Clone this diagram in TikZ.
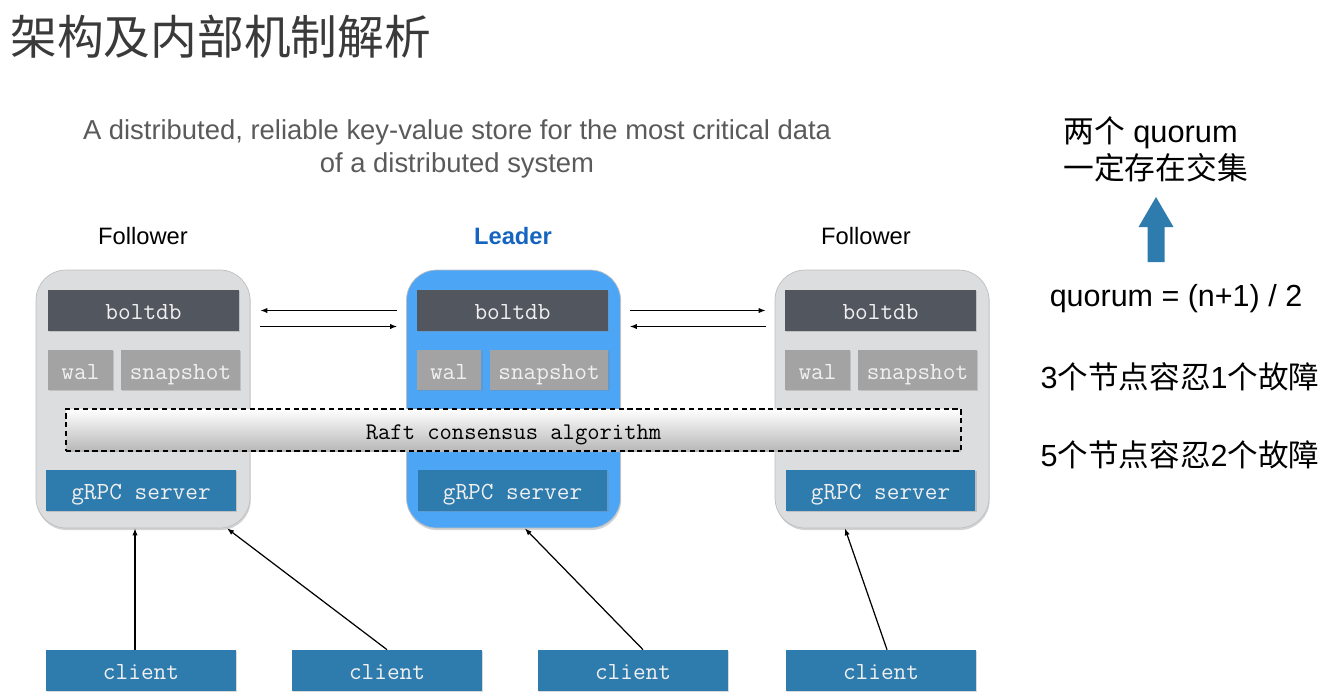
\documentclass[tikz,border=0pt]{standalone}
\usepackage{fontspec}
\setmainfont{Liberation Sans}
\newfontfamily\cjk{Noto Sans CJK SC}
\usetikzlibrary{arrows.meta,shadows}

\definecolor{boltgray}{HTML}{52565E}
\definecolor{walgray}{HTML}{A3A3A3}
\definecolor{grpcblue}{HTML}{2E7BAE}
\definecolor{leaderblue}{HTML}{4DA6F5}
\definecolor{followergray}{HTML}{DCDDDF}
\definecolor{leadertext}{HTML}{1565C0}
\definecolor{titlegray}{HTML}{3A3A3A}
\definecolor{subgray}{HTML}{5A5A5A}

\begin{document}
\begin{tikzpicture}[x=0.02cm, y=-0.02cm, every node/.style={inner sep=0pt},
    member/.style={rectangle, rounded corners=0.6cm, minimum width=4.28cm, minimum height=5.16cm,
        draw=black!25, drop shadow={shadow xshift=0.4pt, shadow yshift=-1.2pt, opacity=0.35}},
    part/.style={rectangle, text=white!94!black, font=\ttfamily\fontsize{14}{16}\selectfont,
        text height=2.1ex, text depth=0.1ex,
        drop shadow={shadow xshift=0.6pt, shadow yshift=-0.8pt, opacity=0.3}},
    bolt/.style={part, fill=boltgray, minimum width=3.82cm, minimum height=0.82cm},
    wal/.style={part, fill=walgray, minimum width=1.3cm, minimum height=0.8cm},
    snap/.style={part, fill=walgray, minimum width=2.38cm, minimum height=0.8cm},
    grpc/.style={part, fill=grpcblue, minimum width=3.8cm, minimum height=0.82cm},
    conn/.style={-{Latex[length=4pt,width=3pt]}, line width=0.7pt},
    role/.style={font=\fontsize{13.5}{16}\selectfont}]
    \useasboundingbox (0, 0) rectangle (1325, 698);

    % title and subtitle
    \node[anchor=west, text=titlegray, font=\cjk\fontsize{26.6}{30}\selectfont] (title) at (10, 37) {架构及内部机制解析};
    \node[align=center, text=subgray, font=\fontsize{15.6}{18.7}\selectfont] (sub) at (457, 148.5)
        {A distributed, reliable key-value store for the most critical data\\of a distributed system};

    % roles
    \node[role] (r1) at (143, 236) {Follower};
    \node[role, text=leadertext, font=\bfseries\fontsize{13.5}{16}\selectfont] (r2) at (513, 236) {Leader};
    \node[role] (r3) at (866, 236) {Follower};

    % members
    \node[member, fill=followergray] (fl) at (143, 399) {};
    \node[member, fill=leaderblue] (ld) at (513.5, 399) {};
    \node[member, fill=followergray] (fr) at (882, 399) {};

    % raft layer across all members
    \node[rectangle, minimum width=17.9cm, minimum height=0.84cm, top color=white, bottom color=black!28,
        draw=black, densely dashed, line width=0.7pt, text height=2.1ex, text depth=0.1ex,
        font=\ttfamily\fontsize{13.6}{15}\selectfont] (raft) at (513.5, 430)
        {Raft consensus algorithm};

    % left follower
    \node[bolt] (fl-b) at (143.5, 310.5) {boltdb};
    \node[wal] (fl-w) at (80.5, 370) {wal};
    \node[snap] (fl-s) at (180.5, 370) {snapshot};
    \node[grpc] (fl-g) at (141, 490.5) {gRPC server};
    % leader
    \node[bolt] (ld-b) at (512.5, 310.5) {boltdb};
    \node[wal] (ld-w) at (449, 370) {wal};
    \node[snap] (ld-s) at (549, 370) {snapshot};
    \node[grpc] (ld-g) at (512.5, 490.5) {gRPC server};
    % right follower
    \node[bolt] (fr-b) at (880.5, 310.5) {boltdb};
    \node[wal] (fr-w) at (817.5, 370) {wal};
    \node[snap] (fr-s) at (917.5, 370) {snapshot};
    \node[grpc] (fr-g) at (880.5, 490.5) {gRPC server};

    % clients
    \node[grpc] (c1) at (141, 670.5) {client};
    \node[grpc] (c2) at (387, 670.5) {client};
    \node[grpc] (c3) at (633, 670.5) {client};
    \node[grpc] (c4) at (881, 670.5) {client};

    % replication between members
    \draw[conn] ([xshift=-0.18cm]ld.west |- ld-b.center) -- ([xshift=0.2cm]fl.east |- ld-b.center);
    \draw[conn] ([xshift=0.2cm, yshift=-0.32cm]fl.east |- ld-b.center) -- ([xshift=-0.18cm, yshift=-0.32cm]ld.west |- ld-b.center);
    \draw[conn] ([xshift=0.18cm]ld.east |- ld-b.center) -- ([xshift=-0.18cm]fr.west |- ld-b.center);
    \draw[conn] ([xshift=-0.18cm, yshift=-0.32cm]fr.west |- ld-b.center) -- ([xshift=0.18cm, yshift=-0.32cm]ld.east |- ld-b.center);

    % client requests
    \draw[conn] ([xshift=-0.12cm]c1.north) -- ([xshift=-0.12cm]c1.north |- fl.south);
    \draw[conn] (c2.north) -- (fl.-57);
    \draw[conn] ([xshift=0.2cm]c3.north) -- (ld.-85);
    \draw[conn] ([xshift=0.12cm]c4.north) -- (fr.-106);

    % quorum notes
    \node[anchor=west, align=left, font=\fontsize{17.5}{21}\selectfont] (q1) at (1063, 149.5)
        {{\cjk 两个} quorum\\{\cjk 一定存在交集}};
    \coordinate (tip) at (1156, 197);
    \fill[grpcblue] (tip) -- ++(17.5, 30) -- ++(-9, 0) -- ++(0, 35) -- ++(-17, 0) -- ++(0, -35) -- ++(-9, 0) -- cycle;
    \node[font=\fontsize{17.35}{20}\selectfont] (q2) at (1176, 299) {quorum = (n+1) / 2};
    \node[font=\fontsize{17.4}{21}\selectfont] (q3) at (1180, 377) {3{\cjk 个节点容忍}1{\cjk 个故障}};
    \node[font=\fontsize{17.4}{21}\selectfont] (q4) at (1180, 455) {5{\cjk 个节点容忍}2{\cjk 个故障}};
\end{tikzpicture}
\end{document}
